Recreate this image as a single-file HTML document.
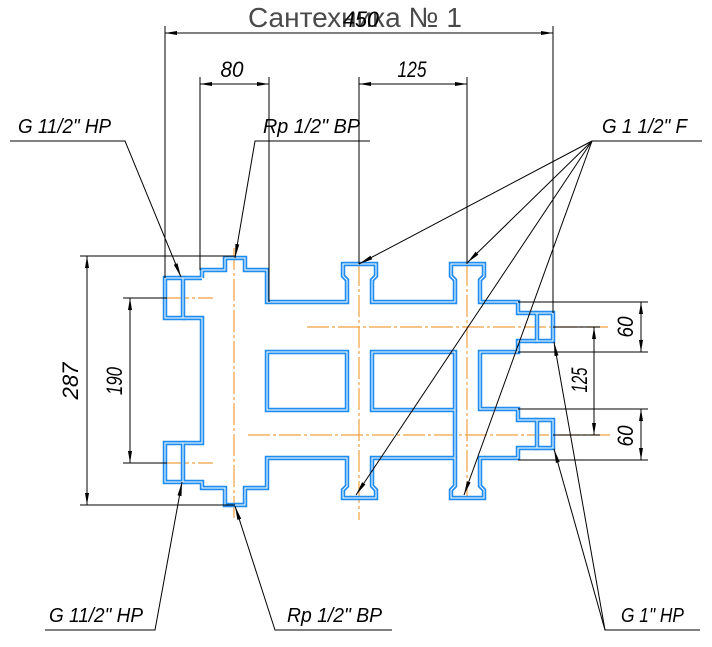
<!DOCTYPE html>
<html><head><meta charset="utf-8"><style>
html,body{margin:0;padding:0;background:#fff;}
svg{display:block;}
.t{font-family:"Liberation Sans",sans-serif;font-style:italic;fill:#000;}
</style></head><body>
<svg width="712" height="647" viewBox="0 0 712 647" xmlns="http://www.w3.org/2000/svg">
<rect width="712" height="647" fill="#fff"/>
<!-- title -->
<text x="355" y="27" text-anchor="middle" font-family="Liberation Sans, sans-serif" font-size="28" fill="#4a4a4a" textLength="214" lengthAdjust="spacingAndGlyphs">Сантехника № 1</text>

<!-- orange centerlines -->
<g stroke="#f0a040" stroke-width="1.2" stroke-dasharray="22 3 3 3" fill="none">
<line x1="234" y1="248" x2="234" y2="520"/>
<line x1="359" y1="264" x2="359" y2="520"/>
<line x1="467" y1="264" x2="467" y2="500"/>
<line x1="307" y1="327" x2="610" y2="327"/>
<line x1="248" y1="435" x2="610" y2="435"/>
<line x1="167" y1="298" x2="213" y2="298"/>
<line x1="167" y1="463" x2="213" y2="463"/>
</g>

<!-- blue geometry -->
<g id="body" fill="none" stroke-linejoin="miter">
<g stroke="#1e8cf0" stroke-width="4.5">
<path d="M202,278 L202,270 L225,270 L225,258 L245,258 L245,270 L267,270 L267,302 L347,302 L347,280 L343,276 L343,264 L376,264 L376,276 L372,280 L372,302 L455,302 L455,280 L451,276 L451,264 L484,264 L484,276 L480,280 L480,302 L518,302 L518,313 L537,313 M537,341 L518,341 L518,352 L480,352 L480,409 L518,409 L518,420 L537,420 M537,448 L518,448 L518,458 L480,458 L480,486 L484,490 L484,498 L451,498 L451,490 L455,486 L455,458 L372,458 L372,486 L376,490 L376,498 L343,498 L343,490 L347,486 L347,458 L267,458 L267,488 L245,488 L245,505 L225,505 L225,488 L202,488 L202,482 L183,482 M183,443 L202,443 L202,318 L183,318 M183,278 L202,278"/>
<rect x="165" y="278" width="18" height="40"/>
<rect x="165" y="443" width="18" height="39"/>
<rect x="537" y="313" width="16" height="28"/>
<rect x="537" y="420" width="16" height="28"/>
<rect x="267" y="352" width="80" height="58"/>
<rect x="372" y="352" width="83" height="58"/>
<line x1="455" y1="410" x2="455" y2="458"/>
</g>
<g stroke="#ffffff" stroke-width="1">
<path d="M202,278 L202,270 L225,270 L225,258 L245,258 L245,270 L267,270 L267,302 L347,302 L347,280 L343,276 L343,264 L376,264 L376,276 L372,280 L372,302 L455,302 L455,280 L451,276 L451,264 L484,264 L484,276 L480,280 L480,302 L518,302 L518,313 L537,313 M537,341 L518,341 L518,352 L480,352 L480,409 L518,409 L518,420 L537,420 M537,448 L518,448 L518,458 L480,458 L480,486 L484,490 L484,498 L451,498 L451,490 L455,486 L455,458 L372,458 L372,486 L376,490 L376,498 L343,498 L343,490 L347,486 L347,458 L267,458 L267,488 L245,488 L245,505 L225,505 L225,488 L202,488 L202,482 L183,482 M183,443 L202,443 L202,318 L183,318 M183,278 L202,278"/>
<rect x="165" y="278" width="18" height="40"/>
<rect x="165" y="443" width="18" height="39"/>
<rect x="537" y="313" width="16" height="28"/>
<rect x="537" y="420" width="16" height="28"/>
<rect x="267" y="352" width="80" height="58"/>
<rect x="372" y="352" width="83" height="58"/>
<line x1="455" y1="410" x2="455" y2="458"/>
</g>
</g>

<!-- black thin lines -->
<g stroke="#000" stroke-width="1" fill="none">
<!-- extension lines -->
<line x1="165" y1="26" x2="165" y2="278"/>
<line x1="553" y1="26" x2="553" y2="313"/>
<line x1="200" y1="77" x2="200" y2="270"/>
<line x1="269" y1="77" x2="269" y2="302"/>
<line x1="359" y1="77" x2="359" y2="264"/>
<line x1="467" y1="77" x2="467" y2="264"/>
<line x1="80" y1="256" x2="235" y2="256"/>
<line x1="80" y1="505" x2="235" y2="505"/>
<line x1="123" y1="298" x2="167" y2="298"/>
<line x1="123" y1="463" x2="167" y2="463"/>
<line x1="518" y1="302" x2="648" y2="302"/>
<line x1="518" y1="352" x2="648" y2="352"/>
<line x1="518" y1="409" x2="648" y2="409"/>
<line x1="518" y1="460" x2="648" y2="460"/>
<line x1="553" y1="327" x2="600" y2="327"/>
<line x1="553" y1="435" x2="600" y2="435"/>
<!-- dimension lines -->
<line x1="165" y1="33" x2="553" y2="33"/>
<line x1="200" y1="84" x2="269" y2="84"/>
<line x1="359" y1="84" x2="467" y2="84"/>
<line x1="87" y1="256" x2="87" y2="505"/>
<line x1="130" y1="298" x2="130" y2="463"/>
<line x1="641" y1="302" x2="641" y2="352"/>
<line x1="594" y1="327" x2="594" y2="435"/>
<line x1="641" y1="409" x2="641" y2="460"/>
<!-- label leaders -->
<polyline points="10,141 125,141 181,277"/>
<polyline points="370,141 255,141 235,258"/>
<line x1="592" y1="141" x2="702" y2="141"/>
<line x1="592" y1="141" x2="359" y2="264"/>
<line x1="592" y1="141" x2="467" y2="263"/>
<line x1="592" y1="141" x2="356" y2="495"/>
<line x1="592" y1="141" x2="464" y2="495"/>
<polyline points="45,630 155,630 182,482"/>
<polyline points="392,630 275,630 235,506"/>
<polyline points="700,630 605,630 554,342"/>
<line x1="605" y1="630" x2="554" y2="449"/>
</g>

<!-- arrowheads -->
<g fill="#000" stroke="none">
<polygon points="165,33 177,31 177,35"/>
<polygon points="553,33 541,31 541,35"/>
<polygon points="200,84 212,82 212,86"/>
<polygon points="269,84 257,82 257,86"/>
<polygon points="359,84 371,82 371,86"/>
<polygon points="467,84 455,82 455,86"/>
<polygon points="87,256 85,268 89,268"/>
<polygon points="87,505 85,493 89,493"/>
<polygon points="130,298 128,310 132,310"/>
<polygon points="130,463 128,451 132,451"/>
<polygon points="641,302 639,314 643,314"/>
<polygon points="641,352 639,340 643,340"/>
<polygon points="594,327 592,339 596,339"/>
<polygon points="594,435 592,423 596,423"/>
<polygon points="641,409 639,421 643,421"/>
<polygon points="641,460 639,448 643,448"/>
<polygon points="181,277 173.8,264.8 177.5,263.3"/>
<polygon points="235,258 235.4,243.9 239.3,244.5"/>
<polygon points="359,264 370.4,255.7 372.3,259.2"/>
<polygon points="467,263 475.6,251.8 478.4,254.6"/>
<polygon points="356,495 362.1,482.2 365.4,484.5"/>
<polygon points="464,495 466.9,481.2 470.6,482.5"/>
<polygon points="182,482 181.5,496.1 177.5,495.4"/>
<polygon points="235,506 241.2,518.7 237.4,519.9"/>
<polygon points="554,342 558.4,355.4 554.5,356.1"/>
<polygon points="554,449 559.7,461.9 555.9,463"/>
</g>

<!-- dimension texts -->
<text class="t" x="361" y="27" font-size="22" text-anchor="middle" textLength="36" lengthAdjust="spacingAndGlyphs">450</text>
<text class="t" x="232" y="77" font-size="22" text-anchor="middle" textLength="23" lengthAdjust="spacingAndGlyphs">80</text>
<text class="t" x="412" y="77" font-size="22" text-anchor="middle" textLength="29" lengthAdjust="spacingAndGlyphs">125</text>
<text class="t" font-size="22" text-anchor="middle" transform="translate(78,381) rotate(-90)" textLength="37" lengthAdjust="spacingAndGlyphs">287</text>
<text class="t" font-size="22" text-anchor="middle" transform="translate(122,381) rotate(-90)" textLength="28" lengthAdjust="spacingAndGlyphs">190</text>
<text class="t" font-size="22" text-anchor="middle" transform="translate(633,327) rotate(-90)" textLength="21" lengthAdjust="spacingAndGlyphs">60</text>
<text class="t" font-size="22" text-anchor="middle" transform="translate(587,380) rotate(-90)" textLength="25" lengthAdjust="spacingAndGlyphs">125</text>
<text class="t" font-size="22" text-anchor="middle" transform="translate(633,436) rotate(-90)" textLength="21" lengthAdjust="spacingAndGlyphs">60</text>

<!-- labels -->
<text class="t" x="18" y="133" font-size="20" textLength="93" lengthAdjust="spacingAndGlyphs">G 11/2&quot; НР</text>
<text class="t" x="263" y="133" font-size="20" textLength="97" lengthAdjust="spacingAndGlyphs">Rp 1/2&quot; ВР</text>
<text class="t" x="602" y="133" font-size="20" textLength="85" lengthAdjust="spacingAndGlyphs">G 1 1/2&quot; F</text>
<text class="t" x="49" y="622" font-size="20" textLength="94" lengthAdjust="spacingAndGlyphs">G 11/2&quot; НР</text>
<text class="t" x="287" y="622" font-size="20" textLength="95" lengthAdjust="spacingAndGlyphs">Rp 1/2&quot; ВР</text>
<text class="t" x="621" y="622" font-size="20" textLength="63" lengthAdjust="spacingAndGlyphs">G 1&quot; НР</text>
</svg>
</body></html>
